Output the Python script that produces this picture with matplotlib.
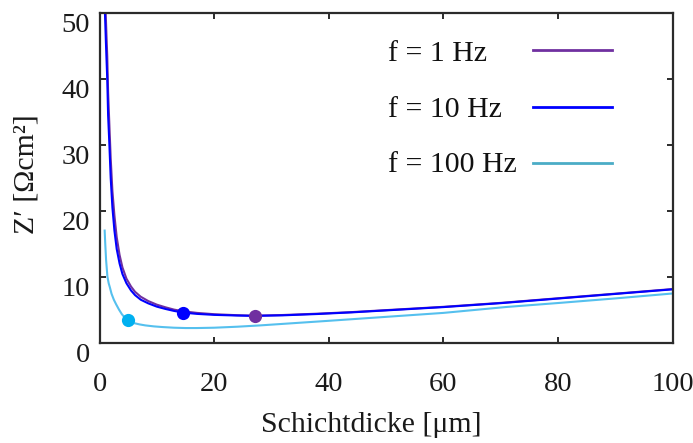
import matplotlib
matplotlib.use("Agg")
import matplotlib.pyplot as plt
from matplotlib.lines import Line2D

plt.rcParams['font.family'] = ['Liberation Serif', 'DejaVu Serif']

# Realteil der Impedanz Z' [Ohm cm^2] über der Schichtdicke [µm]
d_1hz = [0.85, 0.95, 1.1, 1.2, 1.35, 1.5, 1.7, 1.95, 2.25, 2.6, 3.0, 3.5, 4.0, 4.7,
         5.5, 6.2, 7.2, 8.5, 10, 11.5, 13, 14.6, 17, 20, 24, 27, 32, 38, 44, 50,
         60, 70, 80, 90, 100]
z_1hz = [59, 53.5, 49.5, 47, 43.5, 38, 33.5, 28, 23, 19.3, 16.0, 13.3, 11.4, 9.7,
         8.5, 7.7, 6.95, 6.3, 5.75, 5.35, 5.0, 4.75, 4.5, 4.3, 4.15, 4.07, 4.18,
         4.38, 4.62, 4.92, 5.42, 6.02, 6.72, 7.42, 8.12]

d_10hz = [0.85, 0.95, 1.1, 1.2, 1.35, 1.5, 1.7, 1.95, 2.25, 2.6, 3.0, 3.5, 4.0, 4.7,
          5.5, 6.2, 7.2, 8.5, 10, 11.5, 13, 14.6, 17, 20, 24, 27, 32, 38, 44, 50,
          60, 70, 80, 90, 100]
z_10hz = [56, 50, 46, 43.5, 40, 34.5, 30.5, 25.0, 20.5, 17.0, 14.2, 12.0, 10.4, 9.0,
          7.9, 7.2, 6.5, 5.95, 5.45, 5.1, 4.8, 4.55, 4.35, 4.2, 4.1, 4.05, 4.13,
          4.33, 4.58, 4.88, 5.38, 5.98, 6.68, 7.38, 8.08]

d_100hz = [0.9, 1.0, 1.15, 1.38, 1.6, 1.8, 2.1, 2.5, 2.9, 3.4, 3.9, 4.4, 5.0, 6.0,
           7.0, 8.0, 9.5, 11, 13, 15, 17, 20, 24, 28, 34, 40, 50, 60, 71, 80, 90, 100]
z_100hz = [17.0, 15.0, 12.5, 10.0, 9.0, 8.4, 7.4, 6.5, 5.8, 5.0, 4.3, 3.8, 3.35, 2.95,
           2.75, 2.6, 2.45, 2.35, 2.25, 2.2, 2.2, 2.25, 2.4, 2.6, 2.95, 3.3, 3.9,
           4.5, 5.4, 6.0, 6.7, 7.45]

# markierte Punkte je Frequenz
mark_d = [27.1, 14.6, 5.0]
mark_z = [4.05, 4.55, 3.35]

labels = ["f = 1 Hz", "f = 10 Hz", "f = 100 Hz"]
line_colors = ["#7030A0", "#0000FF", "#55C0EE"]
marker_colors = ["#7030A0", "#0000FF", "#00B0F0"]
legend_colors = ["#7030A0", "#0000FF", "#4BACC6"]

xticks = [0, 20, 40, 60, 80, 100]
yticks = [0, 10, 20, 30, 40, 50]

fig = plt.figure(figsize=(6.93, 4.43), dpi=100)
ax = fig.add_axes([0.1436, 0.2268, 0.8271, 0.7432])

series = [(d_1hz, z_1hz), (d_10hz, z_10hz), (d_100hz, z_100hz)]
for (d, z), c in zip(series, line_colors):
    ax.plot(d, z, color=c, lw=1.5, zorder=2)
for xm, ym, c in zip(mark_d, mark_z, marker_colors):
    ax.plot([xm], [ym], 'o', color=c, ms=9.5, mec='none', zorder=3)

ax.set_xlim(0, 100)
ax.set_ylim(0, 50)
ax.set_xticks(xticks)
ax.set_yticks(yticks)
ax.set_xticklabels([str(t) for t in xticks])
ax.set_yticklabels([str(t) for t in yticks])

spine_color = "#2b2b2b"
for s in ax.spines.values():
    s.set_color(spine_color)
    s.set_linewidth(1.6)
ax.tick_params(direction='in', length=4.5, width=1.4, color=spine_color,
               top=True, right=True, labelsize=20.5, labelcolor='#1a1a1a')
ax.tick_params(axis='x', pad=21)
ax.tick_params(axis='y', pad=7)
for lab in ax.get_yticklabels():
    lab.set_va('top')

ax.set_xlabel("Schichtdicke [\u03bcm]", fontsize=21.5, color='#1a1a1a')
ax.xaxis.label.set_va('center')
ax.xaxis.set_label_coords(0.474, -0.249)
ax.set_ylabel("Z\u2032 [\u03a9cm\u00b2]", fontsize=21.5, color='#1a1a1a')
ax.yaxis.label.set_va('center')
ax.yaxis.set_label_coords(-0.127, 0.51)

# Legende: Text links, Linie rechts
text_y = [0.854, 0.685, 0.518]
handle_y = [0.8876, 0.7167, 0.5466]
for lab, c, ty, hy in zip(labels, legend_colors, text_y, handle_y):
    ax.text(0.504, ty, lab, transform=ax.transAxes, fontsize=21.5,
            ha='left', va='baseline', color='#111111')
    ax.add_line(Line2D([0.7568, 0.8946], [hy, hy], transform=ax.transAxes,
                       color=c, lw=2.0))

fig.savefig("out.png", dpi=100)
